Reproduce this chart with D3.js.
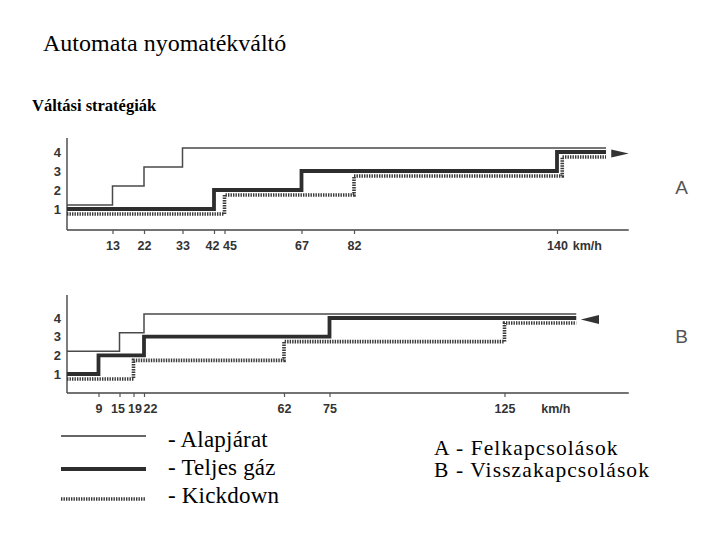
<!DOCTYPE html>
<html>
<head>
<meta charset="utf-8">
<script src="https://cdn.jsdelivr.net/npm/d3@7/dist/d3.min.js"></script>
<style>
  html, body { margin: 0; padding: 0; background: #fff; }
  .tick text { font-family: "Liberation Sans", Arial, sans-serif; font-weight: bold; font-size: 12.5px; fill: #333; }
</style>
</head>
<body>
<script>
"use strict";

// gear levels and tick speeds
const gears = [1, 2, 3, 4];
const ticksA = [13, 22, 33, 42, 45, 67, 82, 140];
const ticksB = [9, 15, 19, 22, 62, 75, 125];

// [speed km/h, gear] breakpoints, A = upshifts
const upAlap = [[0, 1], [13, 2], [22, 3], [33, 4], [154, 4]];
const upTeljes = [[0, 1], [42, 2], [67, 3], [140, 4], [154, 4]];
const upKick = [[0, 1], [45, 2], [82, 3], [141.5, 4], [154, 4]];

// B = downshifts
const downAlap = [[0, 2], [15, 3], [22, 4], [145.5, 4]];
const downTeljes = [[0, 1], [9, 2], [22, 3], [75, 4], [145.5, 4]];
const downKick = [[0, 1], [19, 2], [62, 3], [125, 4], [145.5, 4]];

const seriesNames = ["- Alapjárat", "- Teljes gáz", "- Kickdown"];
const panelNames = ["A - Felkapcsolások", "B - Visszakapcsolások"];

const width = 720, height = 540;

// crowded tick labels get nudged sideways (px) like in the scan
let labelNudge = {A: {42: -2, 45: 5}, B: {15: -2, 19: 1, 22: 6}};

const svg = d3.select("body").append("svg")
    .attr("width", width)
    .attr("height", height);

// line looks: thin, thick, hatched
let styles = [
    {w: 1.5, c: "#4a4a4a", dash: null, dy: -4},
    {w: 3.8, c: "#2e2e2e", dash: null, dy: 0},
    {w: 3.6, c: "#3a3a3a", dash: "1.4,1.1", dy: 5}
];

let x = d3.scaleLinear().domain([0, 160.5]).range([67, 628.75]);

function panel(key, yScale, yTop, yBottom, ticks, data, kmh, arrowDir, letterY) {
    let g = svg.append("g");

    // axes lines
    g.append("line")
        .attr("x1", x(0)).attr("x2", x(0))
        .attr("y1", yTop).attr("y2", yBottom)
        .attr("stroke", "#444").attr("stroke-width", 1.4);
    g.append("line")
        .attr("x1", x(0)).attr("x2", x(160.5))
        .attr("y1", yBottom).attr("y2", yBottom)
        .attr("stroke", "#444").attr("stroke-width", 1.4);

    let xAxis = d3.axisBottom(x)
        .tickValues(ticks)
        .tickSize(4)
        .tickPadding(7.5)
        .tickFormat(d3.format("d"));
    let ax = g.append("g")
        .attr("transform", "translate(0," + yBottom + ")")
        .call(xAxis);
    ax.select(".domain").remove();
    ax.selectAll(".tick line").attr("stroke", "#555").attr("stroke-width", 1.2);
    ax.selectAll(".tick text")
        .attr("dx", function (d) { return labelNudge[key][d] || 0; });

    let yAxis = d3.axisLeft(yScale)
        .tickValues(gears)
        .tickSize(0)
        .tickPadding(6)
        .tickFormat(d3.format("d"));
    let ay = g.append("g")
        .attr("transform", "translate(" + x(0) + ",0)")
        .call(yAxis);
    ay.select(".domain").remove();
    ay.selectAll(".tick text").style("font-size", "13px");

    // km/h unit label
    g.append("text")
        .attr("x", x(kmh))
        .attr("y", yBottom + 20)
        .attr("font-family", "Liberation Sans, Arial, sans-serif")
        .attr("font-weight", "bold")
        .attr("font-size", 12.5)
        .attr("fill", "#333")
        .text("km/h");

    // the three step lines
    data.forEach(function (d, i) {
        let s = styles[i];
        let line = d3.line()
            .x(function (p) { return x(p[0]); })
            .y(function (p) { return yScale(p[1]) + s.dy; })
            .curve(d3.curveStepAfter);
        g.append("path")
            .attr("d", line(d))
            .attr("fill", "none")
            .attr("stroke", s.c)
            .attr("stroke-width", s.w)
            .attr("stroke-dasharray", s.dash);
    });

    // direction arrow
    let ay0 = yScale(4) + 1.5;
    let tri;
    if (arrowDir > 0) {
        tri = [[x(155.5), ay0 - 4], [x(160.5), ay0], [x(155.5), ay0 + 4]];
    } else {
        tri = [[x(146.8), ay0], [x(152), ay0 - 4.5], [x(152), ay0 + 4.5]];
    }
    g.append("path")
        .attr("d", "M" + tri.join("L") + "Z")
        .attr("fill", "#333");

    g.append("text")
        .attr("x", 681.5)
        .attr("y", letterY)
        .attr("text-anchor", "middle")
        .attr("font-family", "Liberation Sans, Arial, sans-serif")
        .attr("font-size", 19)
        .attr("fill", "#555")
        .text(key);
}

let yA = d3.scaleLinear().domain([1, 4]).range([209, 152]);
let yB = d3.scaleLinear().domain([1, 4]).range([374, 318]);

panel("A", yA, 138, 230, ticksA, [upAlap, upTeljes, upKick], 144.5, 1, 193.5);
panel("B", yB, 295, 393, ticksB, [downAlap, downTeljes, downKick], 135.5, -1, 342.5);

// titles
svg.append("text")
    .attr("x", 43).attr("y", 51)
    .attr("font-family", "Liberation Serif, Times New Roman, serif")
    .attr("font-size", 24)
    .attr("fill", "#000")
    .text("Automata nyomatékváltó");

svg.append("text")
    .attr("x", 32).attr("y", 110.5)
    .attr("font-family", "Liberation Serif, Times New Roman, serif")
    .attr("font-weight", "bold")
    .attr("font-size", 16.5)
    .attr("fill", "#000")
    .text("Váltási stratégiák");

// legend
let legend = svg.append("g");
seriesNames.forEach(function (name, i) {
    let s = styles[i];
    let ly = [436, 469, 499][i];
    legend.append("line")
        .attr("x1", 61).attr("x2", 146)
        .attr("y1", ly).attr("y2", ly)
        .attr("stroke", i === 0 ? "#666" : s.c)
        .attr("stroke-width", i === 0 ? 2 : s.w)
        .attr("stroke-dasharray", s.dash);
    legend.append("text")
        .attr("x", 168)
        .attr("y", [446.7, 474.5, 503.3][i])
        .attr("font-family", "Liberation Serif, Times New Roman, serif")
        .attr("font-size", 23)
        .attr("letter-spacing", 0.2)
        .attr("fill", "#000")
        .text(name);
});

panelNames.forEach(function (name, i) {
    legend.append("text")
        .attr("x", 434)
        .attr("y", [455, 477][i])
        .attr("font-family", "Liberation Serif, Times New Roman, serif")
        .attr("font-size", 21.5)
        .attr("letter-spacing", 1.1)
        .attr("fill", "#000")
        .text(name);
});
</script>
</body>
</html>
